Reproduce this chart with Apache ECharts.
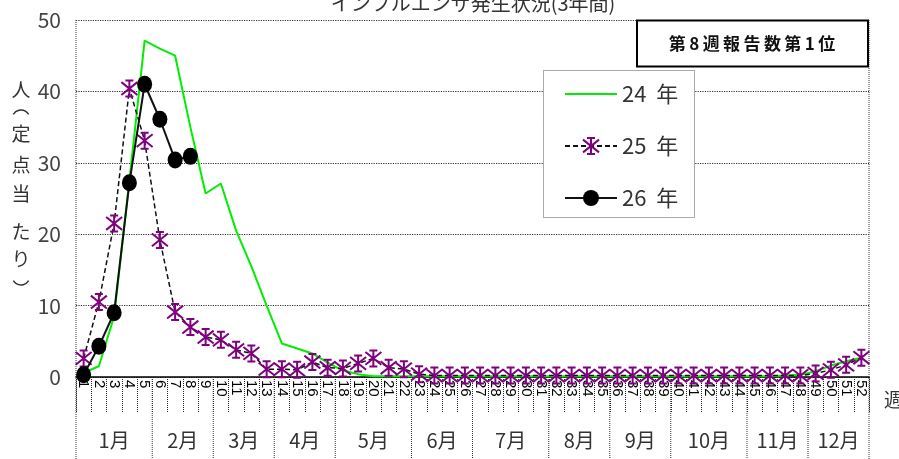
<!DOCTYPE html>
<html>
<head>
<meta charset="utf-8">
<script src="https://cdn.jsdelivr.net/npm/echarts@6/dist/echarts.min.js"></script>
<style>
  html, body { margin: 0; padding: 0; background: #fff; }
  #chart { width: 899px; height: 459px; }
</style>
</head>
<body>
<div id="chart"></div>
<script>
// Weekly influenza reports per sentinel site, three seasons
const weeks = ['1','2','3','4','5','6','7','8','9','10','11','12','13','14','15','16','17','18','19','20',
  '21','22','23','24','25','26','27','28','29','30','31','32','33','34','35','36','37','38','39','40',
  '41','42','43','44','45','46','47','48','49','50','51','52'];

const months = ['1月','2月','3月','4月','5月','6月','7月','8月','9月','10月','11月','12月'];
// last week number of each month
const monthEndWeeks = [5, 9, 13, 17, 22, 26, 31, 35, 39, 44, 48, 52];

const yTicks = [0, 10, 20, 30, 40, 50];

const seriesNames = ['24  年', '25  年', '26  年'];

const y24 = [0.6, 1.5, 8.5, 27.5, 47.1, 46.0, 45.0, 35.0, 25.7, 27.1,
  20.5, 15.5, 10.0, 4.7, 4.0, 3.3, 2.0, 0.9, 0.4, 0.1,
  0.1, 0.1, 0.1, 0.1, 0.1, 0.1, 0.1, 0.1, 0.1, 0.1,
  0.1, 0.1, 0.1, 0.1, 0.1, 0.1, 0.1, 0.1, 0.1, 0.1,
  0.1, 0.1, 0.1, 0.1, 0.1, 0.1, 0.2, 0.3, 0.8, 1.6,
  2.2, 2.7];

const y25 = [2.6, 10.5, 21.5, 40.4, 33.1, 19.2, 9.1, 7.0, 5.6, 5.2,
  3.8, 3.3, 1.1, 1.1, 1.0, 2.1, 1.3, 1.2, 1.9, 2.6,
  1.3, 1.1, 0.4, 0.2, 0.2, 0.2, 0.2, 0.2, 0.2, 0.2,
  0.2, 0.2, 0.2, 0.2, 0.2, 0.2, 0.2, 0.2, 0.2, 0.2,
  0.2, 0.2, 0.2, 0.2, 0.2, 0.2, 0.2, 0.2, 0.5, 1.0,
  1.7, 2.7];

const y26 = [0.3, 4.3, 9.0, 27.2, 41.0, 36.1, 30.4, 30.9];

const titleText = 'インフルエンザ発生状況(3年間)';
const noteText = '第\u20098\u2009週\u2009報\u2009告\u2009数\u2009第\u20091\u2009位';
// y axis name, top to bottom, between a pair of vertical brackets
const yNameChars = ['人', '定', '点', '当', 'た', 'り'];
const yNameY = [90, 134, 165, 194, 232, 259];

const NARROW = '"Liberation Sans Narrow", "Noto Sans CJK JP", sans-serif';
const CJK = '"Noto Sans CJK JP", sans-serif';

const starPath = 'path://M5,0L5,10M3,0L7,0M3,10L7,10M1,1L9,9M1,9L9,1';

const chart = echarts.init(document.getElementById('chart'), null, { renderer: 'canvas' });

const option = {
  animation: false,
  backgroundColor: '#fff',
  grid: { left: 76, right: 30, top: 20, bottom: 82, containLabel: false },
  legend: {
    orient: 'vertical',
    left: 543,
    top: 70,
    padding: [13, 20, 15, 21],
    itemGap: 30,
    itemWidth: 52,
    itemHeight: 20,
    z: 10,
    data: [
      { name: seriesNames[0], itemStyle: { opacity: 0 } },
      { name: seriesNames[1] },
      { name: seriesNames[2] }
    ],
    textStyle: { fontFamily: NARROW, fontSize: 22, color: '#333' }
  },
  xAxis: {
    type: 'category',
    data: weeks,
    boundaryGap: true,
    axisLine: { onZero: true, lineStyle: { color: '#000', width: 1.5 } },
    axisTick: { show: true, interval: 0, length: 36, lineStyle: { color: '#222', type: 'dotted', width: 1 } },
    axisLabel: {
      interval: 0, rotate: -90, margin: 3,
      fontFamily: '"Liberation Sans", sans-serif', fontSize: 15, color: '#000'
    },
    splitLine: { show: false }
  },
  yAxis: {
    type: 'value',
    min: yTicks[0],
    max: yTicks[yTicks.length - 1],
    interval: 10,
    axisLine: { show: false },
    axisTick: { show: false },
    axisLabel: { margin: 15, fontFamily: NARROW, fontSize: 21, color: '#444' },
    splitLine: { show: true, lineStyle: { color: '#333', type: 'dotted', width: 1.2 } }
  },
  series: [
    {
      name: seriesNames[0],
      type: 'line',
      data: y24,
      symbol: 'none',
      z: 2,
      lineStyle: { color: '#00ee00', width: 2 },
      itemStyle: { color: '#00ee00' }
    },
    {
      name: seriesNames[1],
      type: 'line',
      data: y25,
      symbol: starPath,
      symbolSize: 16,
      z: 3,
      lineStyle: { color: '#111', width: 1.5, type: [5, 3] },
      itemStyle: { color: 'rgba(0,0,0,0)', borderColor: '#800080', borderWidth: 2 }
    },
    {
      name: seriesNames[2],
      type: 'line',
      data: y26,
      symbol: 'circle',
      symbolSize: [15, 17],
      z: 4,
      lineStyle: { color: '#111', width: 2 },
      itemStyle: { color: '#000' }
    }
  ]
};

chart.setOption(option);

// Month band, frame lines and annotations placed with the axis scales
const xc = i => chart.convertToPixel({ xAxisIndex: 0 }, i);
const half = (xc(1) - xc(0)) / 2;
const yTop = chart.convertToPixel({ yAxisIndex: 0 }, yTicks[yTicks.length - 1]);
const yZero = chart.convertToPixel({ yAxisIndex: 0 }, 0);
const leftX = xc(0) - half;
const rightX = xc(weeks.length - 1) + half;

const graphics = [];
const dotted = { stroke: '#333', lineWidth: 1, lineDash: [1, 1] };

// frame sides
graphics.push({ type: 'line', shape: { x1: leftX, y1: yTop, x2: leftX, y2: 459 }, style: dotted, z: 1 });
graphics.push({ type: 'line', shape: { x1: rightX, y1: yTop, x2: rightX, y2: 459 }, style: dotted, z: 1 });

let startWeek = 0;
monthEndWeeks.forEach((endWeek, m) => {
  const x0 = xc(startWeek) - half;
  const x1 = xc(endWeek - 1) + half;
  if (m < monthEndWeeks.length - 1) {
    graphics.push({ type: 'line', shape: { x1: x1, y1: yZero, x2: x1, y2: 459 }, style: dotted, z: 1 });
  }
  graphics.push({
    type: 'text', x: (x0 + x1) / 2, y: 440, z: 5,
    style: { text: months[m], fontFamily: NARROW, fontSize: 20, fill: '#333', align: 'center', verticalAlign: 'middle' }
  });
  startWeek = endWeek;
});

// week unit at right end of the axis
graphics.push({
  type: 'text', x: 884, y: 400, z: 5,
  style: { text: '週', fontFamily: CJK, fontSize: 19, fill: '#333', align: 'left', verticalAlign: 'middle' }
});

// chart title
graphics.push({
  type: 'text', x: 473, y: 3, z: 5,
  style: { text: titleText, fontFamily: CJK, fontSize: 20, fill: '#333', align: 'center', verticalAlign: 'middle' }
});

// y axis name, written vertically
yNameChars.forEach((ch, i) => {
  graphics.push({
    type: 'text', x: 21, y: yNameY[i], z: 5,
    style: { text: ch, fontFamily: CJK, fontSize: 19, fill: '#333', align: 'center', verticalAlign: 'middle' }
  });
});
// vertical brackets: opening above, closing below
graphics.push({
  type: 'arc', z: 5,
  shape: { cx: 21, cy: 119, r: 9, startAngle: Math.PI + 0.55, endAngle: 2 * Math.PI - 0.55 },
  style: { fill: 'none', stroke: '#333', lineWidth: 1.5 }
});
graphics.push({
  type: 'arc', z: 5,
  shape: { cx: 21, cy: 276, r: 9, startAngle: 0.55, endAngle: Math.PI - 0.55 },
  style: { fill: 'none', stroke: '#333', lineWidth: 1.5 }
});

// legend frame
graphics.push({
  type: 'rect', z: 8,
  shape: { x: 543.5, y: 70.5, width: 151, height: 147 },
  style: { fill: '#fff', stroke: '#555', lineWidth: 1, lineDash: [1, 1] }
});

// note box
graphics.push({
  type: 'rect', z: 8,
  shape: { x: 637, y: 20.5, width: 231, height: 46 },
  style: { fill: '#fff', stroke: '#000', lineWidth: 2 }
});
graphics.push({
  type: 'text', x: 752, y: 44, z: 9,
  style: { text: noteText, fontFamily: CJK, fontSize: 17, fontWeight: 'bold', fill: '#111', align: 'center', verticalAlign: 'middle' }
});

chart.setOption({ graphic: graphics });
</script>
</body>
</html>
